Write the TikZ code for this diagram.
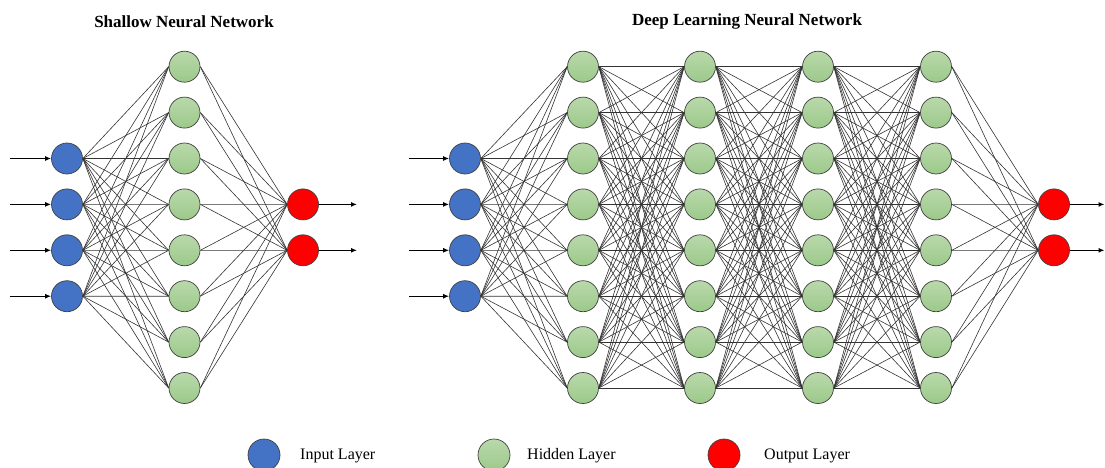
\documentclass[tikz,border=0pt]{standalone}
\usepackage{fontspec}
\setmainfont{Liberation Serif}
\usetikzlibrary{arrows.meta}
\definecolor{inblue}{HTML}{4472C4}
\definecolor{hidtop}{HTML}{B9D9AB}
\definecolor{hidbot}{HTML}{9CC98A}
\definecolor{ringgray}{HTML}{404040}
\pgfdeclarelayer{bg}
\pgfsetlayers{bg,main}
\begin{document}
\begin{tikzpicture}[x=1pt,y=-1pt,
  neuron/.style={circle, minimum size=31pt, inner sep=0pt, draw=ringgray, line width=0.7pt},
  inp/.style={neuron, fill=inblue},
  hid/.style={neuron, top color=hidtop, bottom color=hidbot},
  outn/.style={neuron, fill=red},
  wire/.style={line width=0.6pt, draw=black!80},
  io/.style={line width=1.3pt, draw=black, -{Latex[length=6pt,width=5pt]}},
  ttl/.style={font=\fontsize{17}{20}\selectfont\bfseries},
  legtext/.style={font=\fontsize{16}{19}\selectfont, anchor=west, inner sep=0pt}]
\useasboundingbox (0,0) rectangle (1105,468);

% titles
\node[ttl] (t1) at (184,22) {Shallow Neural Network};
\node[ttl] (t2) at (747,21) {Deep Learning Neural Network};

% ---------- shallow network ----------
\foreach \i in {1,...,4} {
  \node[inp] (si\i) at (67, {158.5+45.9*(\i-1)}) {};
  \coordinate (sa\i) at (10, {158.5+45.9*(\i-1)});
}
\foreach \j in {1,...,8}
  \node[hid] (sh\j) at (184.5, {66.7+45.9*(\j-1)}) {};
\foreach \k in {1,2} {
  \node[outn] (so\k) at (303, {204.4+45.9*(\k-1)}) {};
  \coordinate (sz\k) at (357, {204.4+45.9*(\k-1)});
}

% ---------- deep network ----------
\foreach \i in {1,...,4} {
  \node[inp] (d0-\i) at (465, {158.5+45.9*(\i-1)}) {};
  \coordinate (da\i) at (409, {158.5+45.9*(\i-1)});
}
\foreach \L/\x in {1/583,2/700,3/818,4/936}
  \foreach \j in {1,...,8}
    \node[hid] (d\L-\j) at (\x, {66.7+45.9*(\j-1)}) {};
\foreach \k in {1,2} {
  \node[outn] (d5-\k) at (1054, {204.4+45.9*(\k-1)}) {};
  \coordinate (dz\k) at (1104.5, {204.4+45.9*(\k-1)});
}

% ---------- connections ----------
\begin{pgfonlayer}{bg}
  \foreach \i in {1,...,4}
    \foreach \j in {1,...,8}
      \draw[wire] (si\i.east) -- (sh\j.west);
  \foreach \j in {1,...,8}
    \foreach \k in {1,2}
      \draw[wire] (sh\j.east) -- (so\k.west);
  \foreach \i in {1,...,4}
    \foreach \j in {1,...,8}
      \draw[wire] (d0-\i.east) -- (d1-\j.west);
  \foreach \a/\b in {1/2,2/3,3/4}
    \foreach \i in {1,...,8}
      \foreach \j in {1,...,8}
        \draw[wire] (d\a-\i.east) -- (d\b-\j.west);
  \foreach \j in {1,...,8}
    \foreach \k in {1,2}
      \draw[wire] (d4-\j.east) -- (d5-\k.west);
\end{pgfonlayer}

% ---------- input / output arrows ----------
\foreach \i in {1,...,4} {
  \draw[io] (sa\i) -- (si\i.west);
  \draw[io] (da\i) -- (d0-\i.west);
}
\foreach \k in {1,2} {
  \draw[io] (so\k.east) -- (sz\k);
  \draw[io] (d5-\k.east) -- (dz\k);
}

% ---------- legend ----------
\node[inp, minimum size=32pt] (lg1) at (264,455) {};
\node[legtext] (lt1) at (300,456) {Input Layer};
\node[hid, minimum size=32pt] (lg2) at (494,455) {};
\node[legtext] (lt2) at (527,456) {Hidden Layer};
\node[outn, minimum size=32pt] (lg3) at (724,455) {};
\node[legtext] (lt3) at (764,456) {Output Layer};
\end{tikzpicture}
\end{document}
